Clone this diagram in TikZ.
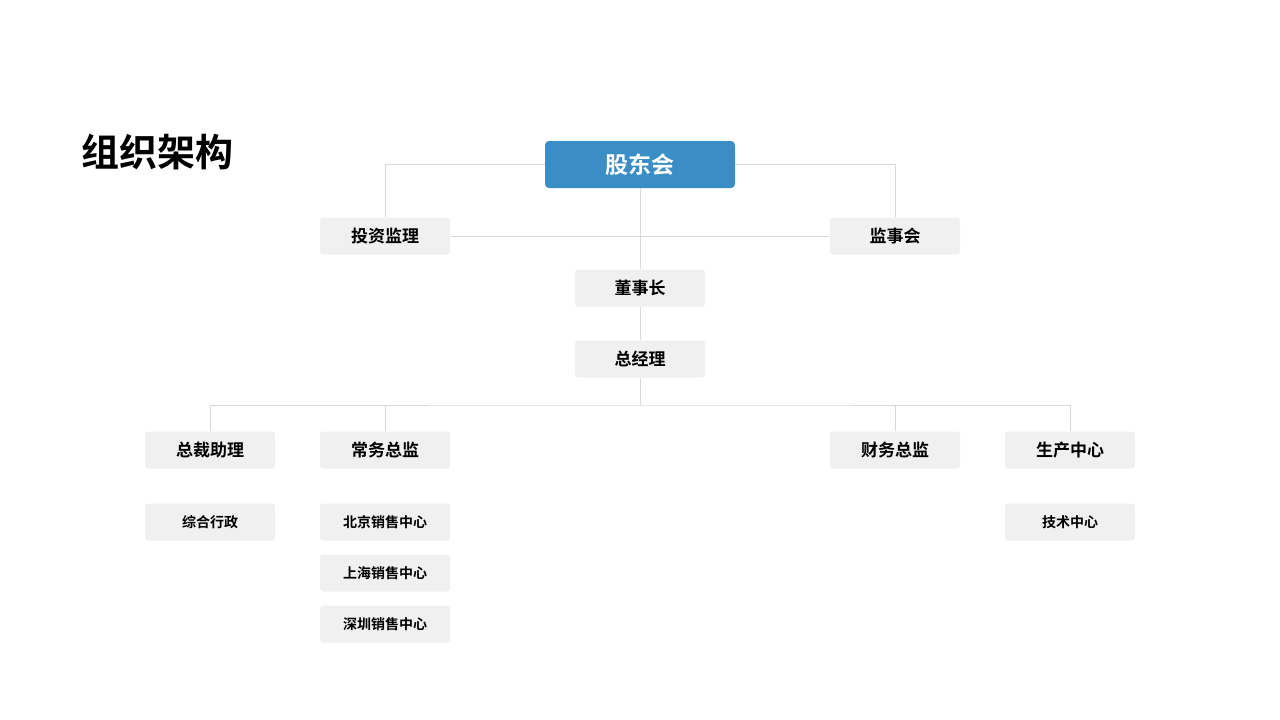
\documentclass[tikz,border=0pt]{standalone}
\usepackage{fontspec}
\newfontfamily\cjk{Noto Sans CJK SC}
\newfontfamily\cjkb{Noto Sans CJK SC Bold}
\definecolor{boxfill}{HTML}{F0F0F0}
\definecolor{blueb}{HTML}{3A8DC5}
\definecolor{linec}{HTML}{D9D9D9}
\begin{document}
\begin{tikzpicture}[x=1pt,y=-1pt,
  box/.style={draw=none,fill=boxfill,rounded corners=3pt,minimum width=130pt,minimum height=37pt,inner sep=0pt,font=\cjkb\fontsize{17}{17}\selectfont},
  sbox/.style={box,font=\cjkb\fontsize{14}{14}\selectfont},
  ln/.style={draw=linec,line width=1pt}]
\useasboundingbox (0,0) rectangle (1280,720);
\node[anchor=west,font=\cjkb\fontsize{38}{38}\selectfont] (title) at (78,152) {组织架构};
\node[fill=blueb,rounded corners=4pt,minimum width=190pt,minimum height=47pt,inner sep=0pt,text=white,font=\cjkb\fontsize{23}{23}\selectfont] (gd) at (640,164.5) {股东会};
\node[box] (tz) at (385,236) {投资监理};
\node[box] (js) at (895,236) {监事会};
\node[box] (dsz) at (640,288) {董事长};
\node[box] (zjl) at (640,359) {总经理};
\node[box] (zc) at (210,450) {总裁助理};
\node[box] (cw) at (385,450) {常务总监};
\node[box] (cwz) at (895,450) {财务总监};
\node[box] (sc) at (1070,450) {生产中心};
\node[sbox] (zh) at (210,522) {综合行政};
\node[sbox] (bj) at (385,522) {北京销售中心};
\node[sbox] (sh) at (385,573) {上海销售中心};
\node[sbox] (sz) at (385,624) {深圳销售中心};
\node[sbox] (js2) at (1070,522) {技术中心};
\coordinate (bus) at (640,405);
\begin{scope}[on background layer/.style={}]
\draw[ln] (gd.west) -| (tz.north);
\draw[ln] (gd.east) -| (js.north);
\draw[ln] (tz.east) -- (js.west);
\draw[ln] (gd.south) -- (dsz.north);
\draw[ln] (dsz.south) -- (zjl.north);
\draw[ln] (zjl.south) -- (bus);
\draw[ln] (zc.north) |- (bus) -| (sc.north);
\draw[ln] (cw.north) -- (cw.north |- bus);
\draw[ln] (cwz.north) -- (cwz.north |- bus);
\end{scope}
\end{tikzpicture}
\end{document}
